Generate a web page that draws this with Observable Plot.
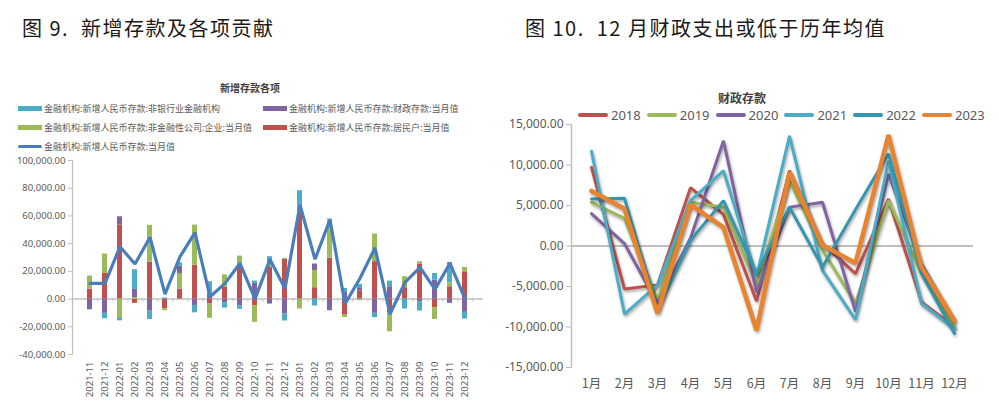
<!DOCTYPE html>
<html>
<head>
<meta charset="utf-8">
<script src="https://cdn.jsdelivr.net/npm/d3@7"></script>
<script src="https://cdn.jsdelivr.net/npm/@observablehq/plot@0.6"></script>
<style>
  html, body { margin: 0; padding: 0; background: #fff; }
  #root { position: relative; width: 999px; height: 411px; background: #fff; overflow: hidden;
          font-family: "Noto Sans CJK SC", "Noto Sans", sans-serif; }
  .title { position: absolute; font-size: 20px; color: #1a1a1a; white-space: pre; letter-spacing: 1.5px; }
  .ctitle { position: absolute; font-weight: bold; color: #404040; white-space: nowrap; }
  .abs { position: absolute; }
  .leg { position: absolute; display: flex; align-items: center; white-space: nowrap; color: #595959; }
  .sw { display: inline-block; }
</style>
</head>
<body>
<div id="root">
  <div class="title" style="left:22px;top:13px;">图 9.&nbsp;&nbsp;新增存款及各项贡献</div>
  <div class="title" style="left:525px;top:13px;">图 10.&nbsp;&nbsp;12 月财政支出或低于历年均值</div>
  <div class="ctitle" style="left:220px;top:80px;font-size:10px;">新增存款各项</div>
  <div class="ctitle" style="left:718px;top:89px;font-size:12px;">财政存款</div>
  <div id="legL"></div>
  <div id="legR"></div>
  <div id="left" class="abs" style="left:0;top:150px;"></div>
  <div id="right" class="abs" style="left:490px;top:110px;"></div>
</div>
<script>
// ---------- Left chart data (亿元) ----------
const months = ["2021-11","2021-12","2022-01","2022-02","2022-03","2022-04","2022-05","2022-06","2022-07","2022-08","2022-09","2022-10","2022-11","2022-12","2023-01","2023-02","2023-03","2023-04","2023-05","2023-06","2023-07","2023-08","2023-09","2023-10","2023-11","2023-12"];
const nameNonbank = "金融机构:新增人民币存款:非银行业金融机构";
const nameFiscal = "金融机构:新增人民币存款:财政存款:当月值";
const nameCorp = "金融机构:新增人民币存款:非金融性公司:企业:当月值";
const nameHouse = "金融机构:新增人民币存款:居民户:当月值";
const nameTotal = "金融机构:新增人民币存款:当月值";
const household = [7200,18500,53400,-3100,26700,-7000,7200,24500,-3600,8400,23300,-5000,22900,28600,63000,8200,29400,-11600,5800,27000,-9900,8200,25000,-6300,8900,19700];
const corporate = [9400,14000,-14000,1000,26500,-1400,10800,28900,-10300,9100,7700,-11800,2900,700,-7200,12300,27700,-1700,-1200,20000,-13700,8000,1900,-8400,2900,3100];
const fiscal    = [-7500,-10300,6000,6000,-8700,0,5800,-4600,3400,-2600,-4800,11300,-3600,-10800,0,4800,-8400,5300,2400,-10300,8900,0,-1900,13700,-3100,-9600];
const nonbank   = [-300,-3900,-1700,14200,-6000,800,2400,-5300,9100,-3900,-2600,1700,4800,-5000,15200,-5000,700,2400,2400,-3100,4100,-7200,-6700,4800,14700,-4800];
const totalDep  = [11300,11300,37800,25300,44600,3600,30600,47900,1700,11300,25800,100,28600,7700,67900,28700,57300,-3600,15000,37000,-10800,12000,22900,7000,25800,200];
const leftTicks = [-40000,-20000,0,20000,40000,60000,80000,100000];

// ---------- Right chart data (亿元) ----------
const monthLabels = ["1月","2月","3月","4月","5月","6月","7月","8月","9月","10月","11月","12月"];
const years = ["2018","2019","2020","2021","2022","2023"];
const y2018 = [9700,-5300,-4800,7200,3900,-6800,9300,300,-3400,5800,-6900,-10000];
const y2019 = [5400,3400,-6700,5400,4800,-4800,8100,-500,-7100,5600,-3400,-10000];
const y2020 = [4000,300,-7100,1000,13000,-5700,4800,5400,-8100,8900,-2200,-9300];
const y2021 = [11700,-8400,-4800,5600,9300,-3800,13600,-3000,-9100,10500,-7100,-10200];
const y2022 = [5800,5900,-7900,700,5600,-3400,4800,-2600,4500,11400,-3400,-10800];
const y2023 = [6800,4600,-8300,5100,2300,-10400,9100,100,-2100,13700,-2600,-9200];
const rightTicks = [-15000,-10000,-5000,0,5000,10000,15000];

// ---------- styles ----------
const colNonbank = "#4BACC6", colFiscal = "#8064A2", colCorp = "#9BBB59", colHouse = "#C0504D", colTotal = "#4A7EBB";
const yearColors = ["#C0504D","#9BBB59","#8064A2","#4BACC6","#3497AE","#E8832F"];
const axisGray = "#BFBFBF", textGray = "#595959";
const fmt = d => (d < 0 ? "-" : "") + d3.format(",.2f")(Math.abs(d));

// ---------- left chart ----------
const seriesList = [
  {name: nameHouse, values: household},
  {name: nameCorp, values: corporate},
  {name: nameFiscal, values: fiscal},
  {name: nameNonbank, values: nonbank}
];
const stackRows = seriesList.flatMap(s => months.map((m, i) => ({month: m, series: s.name, value: s.values[i]})));
const totalRows = months.map((m, i) => ({month: m, value: totalDep[i]}));

const leftW = 490, leftML = 72, leftMR = 7;
const step = (leftW - leftML - leftMR) / months.length;

const leftPlot = Plot.plot({
  width: leftW, height: 260,
  marginLeft: leftML, marginRight: leftMR, marginTop: 10, marginBottom: 56,
  style: {fontFamily: '"Noto Sans", "Noto Sans CJK SC", sans-serif', fontSize: "9.5px", color: textGray, background: "transparent", overflow: "visible"},
  x: {domain: months, padding: 0.64, label: null},
  y: {domain: [-40000, 100000], label: null},
  color: {domain: [nameHouse, nameCorp, nameFiscal, nameNonbank], range: [colHouse, colCorp, colFiscal, colNonbank]},
  marks: [
    Plot.frame({anchor: "left", stroke: axisGray, strokeWidth: 1.2}),
    Plot.axisY({ticks: leftTicks, tickFormat: fmt, tickSize: 4, tickPadding: 3, stroke: axisGray, fill: textGray, label: null}),
    Plot.axisX({tickRotate: -90, tickSize: 0, tickPadding: 7, fill: textGray, label: null}),
    Plot.ruleY([0], {stroke: axisGray, strokeWidth: 1.5}),
    Plot.ruleX(months, {x: d => d, y1: 0, y2: -2200, dx: step / 2, stroke: axisGray}),
    Plot.barY(stackRows, {x: "month", y: "value", fill: "series", order: [nameHouse, nameCorp, nameFiscal, nameNonbank]}),
    Plot.line(totalRows, {x: "month", y: "value", stroke: colTotal, strokeWidth: 3.2, strokeLinejoin: "miter"})
  ]
});
document.getElementById("left").appendChild(leftPlot);

// ---------- right chart ----------
const yearSeries = [y2018, y2019, y2020, y2021, y2022, y2023];
const yearRows = years.flatMap((yr, k) => monthLabels.map((m, i) => ({month: m, year: yr, value: yearSeries[k][i]})));

const rightPlot = Plot.plot({
  width: 509, height: 301,
  marginLeft: 81, marginRight: 26, marginTop: 14, marginBottom: 44,
  style: {fontFamily: '"Noto Sans", "Noto Sans CJK SC", sans-serif', fontSize: "12px", color: textGray, background: "transparent", overflow: "visible"},
  x: {type: "point", domain: monthLabels, padding: 0.5, label: null},
  y: {domain: [-15000, 15000], label: null},
  color: {domain: years, range: yearColors},
  marks: [
    Plot.frame({anchor: "left", stroke: axisGray, strokeWidth: 1.5}),
    Plot.axisY({ticks: rightTicks, tickFormat: fmt, tickSize: 5, tickPadding: 3, stroke: axisGray, fill: textGray, label: null}),
    Plot.axisX({tickSize: 0, tickPadding: 12, fill: textGray, fontFamily: '"Noto Sans CJK SC", sans-serif', fontSize: 12.5, label: null}),
    Plot.ruleY([0], {stroke: axisGray, strokeWidth: 1.8}),
    Plot.line(yearRows.filter(d => d.year !== "2023"), {x: "month", y: "value", z: "year", stroke: "year", strokeWidth: 3, strokeLinejoin: "miter"}),
    Plot.line(yearRows.filter(d => d.year === "2023"), {x: "month", y: "value", z: "year", stroke: "year", strokeWidth: 4.5, strokeLinejoin: "miter"})
  ]
});
document.getElementById("right").appendChild(rightPlot);
rightPlot.querySelectorAll('g[aria-label="line"] path').forEach(p => {
  p.style.filter = "drop-shadow(1.5px 2px 1.5px rgba(0,0,0,0.35))";
});

// ---------- legends ----------
const legL = document.getElementById("legL");
const leftLegend = [
  {name: nameNonbank, color: colNonbank, kind: "bar", x: 18, y: 108},
  {name: nameFiscal, color: colFiscal, kind: "bar", x: 263, y: 108},
  {name: nameCorp, color: colCorp, kind: "bar", x: 18, y: 127},
  {name: nameHouse, color: colHouse, kind: "bar", x: 263, y: 127},
  {name: nameTotal, color: colTotal, kind: "line", x: 18, y: 146}
];
leftLegend.forEach(it => {
  const d = document.createElement("div");
  d.className = "leg";
  d.style.left = it.x + "px";
  d.style.top = (it.y - 7) + "px";
  d.style.height = "14px";
  d.style.fontSize = "9px";
  const sw = document.createElement("span");
  sw.className = "sw";
  sw.style.width = "24px";
  sw.style.height = it.kind === "bar" ? "5px" : "3px";
  sw.style.borderRadius = it.kind === "bar" ? "0" : "2px";
  sw.style.background = it.color;
  sw.style.marginRight = "2px";
  d.appendChild(sw);
  const t = document.createElement("span");
  t.textContent = it.name;
  d.appendChild(t);
  legL.appendChild(d);
});

const legR = document.getElementById("legR");
years.forEach((yr, k) => {
  const d = document.createElement("div");
  d.className = "leg";
  d.style.left = (578 + k * 68.8) + "px";
  d.style.top = "107px";
  d.style.height = "16px";
  d.style.fontSize = "13px";
  d.style.fontFamily = '"Noto Sans", sans-serif';
  const sw = document.createElement("span");
  sw.className = "sw";
  sw.style.width = "30px";
  sw.style.height = "4px";
  sw.style.borderRadius = "2px";
  sw.style.background = yearColors[k];
  sw.style.marginRight = "3px";
  d.appendChild(sw);
  const t = document.createElement("span");
  t.textContent = yr;
  d.appendChild(t);
  legR.appendChild(d);
});
</script>
</body>
</html>
